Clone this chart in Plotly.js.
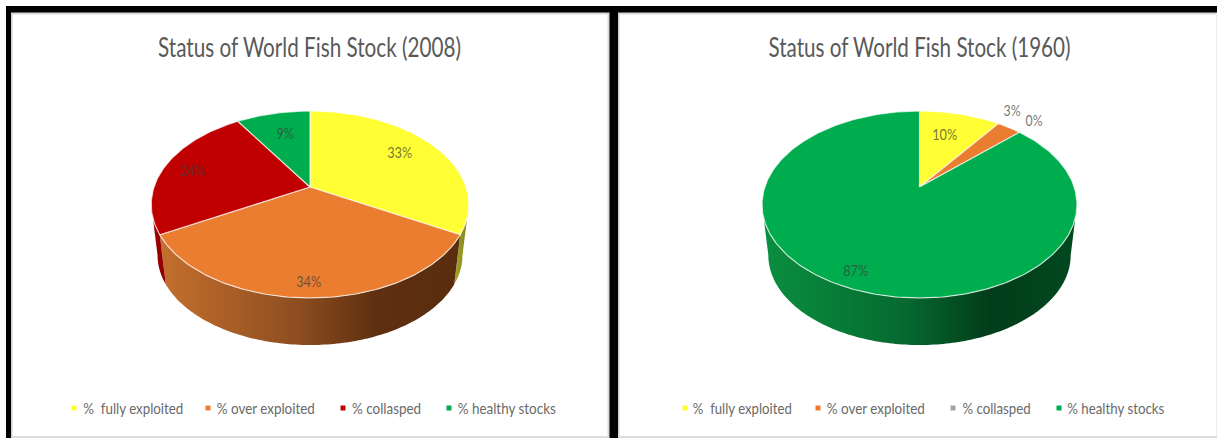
<!DOCTYPE html>
<html>
<head>
<meta charset="utf-8">
<script src="https://cdn.plot.ly/plotly-3.0.1.min.js"></script>
<style>html,body{margin:0;padding:0;background:#fff}#chart{width:1217px;height:438px}</style>
</head>
<body>
<div id="chart"></div>
<script>
// Two tilted, thick pie charts of the status of world fish stocks.
const categories = ['%  fully exploited', '% over exploited', '% collasped', '% healthy stocks'];
const stock2008 = [33, 34, 24, 9];
const stock1960 = [10, 3, 0, 87];
const titles = ['Status of World Fish Stock (2008)', 'Status of World Fish Stock (1960)'];

const FONT = 'Lato, Open Sans, sans-serif';
const topColors = ['#FFFF33', '#EB7D31', '#C00000', '#00AD4E'];
const legendColors = [['#FFFF33', '#ED7D31', '#C00000', '#00AD4E'], ['#FFFF33', '#ED7D31', '#A5A5A5', '#00AD4E']];
const wallScales = [
  [[0, '#a8a828'], [1, '#7d7d1e']],
  [[0, '#c4702e'], [0.45, '#8f4e20'], [0.72, '#5e2f10'], [1, '#5a2d0f']],
  [[0, '#a80000'], [1, '#8a0000']],
  [[0, '#0a8f40'], [0.45, '#066a30'], [0.72, '#023d1a'], [1, '#01481f']]
];

// Perspective of the disc: the far rim is compressed and the near rim stretched.
const PERSPECTIVE = 0.187;
const panels = [
  {values: stock2008, cx: 310, halfW: 156, labels: [
    {r: 0.75, dx: -4, dy: -3}, {r: 0.87, dx: -1, dy: 0}, {r: 0.8, dx: 0, dy: 0}, {r: 0.7, dx: 2, dy: -1}],
    legendX: [74, 208, 343, 449],
    legendSpan: [[83, 183], [217, 315], [352, 421], [458, 556]],
    titleSpan: [158, 461]},
  {values: stock1960, cx: 919.5, halfW: 154.7, labels: [
    {r: 0.62, dx: -1, dy: -6}, {r: 1.1, dx: -5, dy: -13}, {r: 1.15, dx: 1, dy: -6}, {r: 0.86, dx: -2, dy: -1}],
    legendX: [685, 818, 953, 1059],
    legendSpan: [[693, 792], [827, 925], [962, 1030], [1067, 1164]],
    titleSpan: [768, 1070]}
];
const APEX_Y = 187, HALF_H = 90.2;       // top face
const LOWER_Y = 238.5, LOWER_SCALE = 0.96; // bottom face
const STEP = 1;

function project(p, frac, r, apexY, scale) {
  const t = frac * 2 * Math.PI;
  const u = r * Math.sin(t), v = r * Math.cos(t);
  const w = 1 + PERSPECTIVE * v;
  return [p.cx + scale * p.halfW * u / w, apexY - scale * HALF_H * v / w];
}
function arc(p, f0, f1, apexY, scale) {
  const n = Math.max(1, Math.ceil((f1 - f0) * 360 / STEP));
  const pts = [];
  for (let i = 0; i <= n; i++) pts.push(project(p, f0 + (f1 - f0) * i / n, 1, apexY, scale));
  return pts;
}

const traces = [];
const annotations = [];
const textWidths = []; // drawn width of each annotation, in annotation order

function addText(x, y, text, size, color, width) {
  annotations.push({x, y, xref: 'x', yref: 'y', showarrow: false, text,
    font: {family: FONT, size, color}});
  textWidths.push(width);
}

panels.forEach((p, pi) => {
  const total = p.values.reduce((a, b) => a + b, 0);
  const visible = [100.8 / 360, 259.2 / 360];
  let cum = 0;
  const spans = p.values.map(val => { const s = [cum / total, (cum + val) / total]; cum += val; return s; });

  // Side wall: only the part of each slice facing the viewer.
  spans.forEach((s, i) => {
    const a = Math.max(s[0], visible[0]), b = Math.min(s[1], visible[1]);
    if (b <= a) return;
    const up = arc(p, a, b, APEX_Y, 1);
    const low = arc(p, a, b, LOWER_Y, LOWER_SCALE).reverse();
    const ring = up.concat(low, [up[0]]);
    traces.push({
      type: 'scatter', mode: 'none', hoverinfo: 'skip', showlegend: false,
      x: ring.map(q => q[0]), y: ring.map(q => q[1]),
      fill: 'toself', fillcolor: wallScales[i][0][1],
      fillgradient: {type: 'horizontal', colorscale: wallScales[i]}
    });
  });

  // Top face slices.
  spans.forEach((s, i) => {
    if (s[1] <= s[0]) return;
    const ring = arc(p, s[0], s[1], APEX_Y, 1);
    const apex = [p.cx, APEX_Y];
    const pts = [apex].concat(ring, [apex]);
    traces.push({
      type: 'scatter', mode: 'lines', hoverinfo: 'skip', showlegend: false,
      x: pts.map(q => q[0]), y: pts.map(q => q[1]),
      fill: 'toself', fillcolor: topColors[i],
      line: {color: 'rgba(255,255,255,0.7)', width: 1.2}
    });
  });

  // Percentage labels: narrow digits, width grows with the digit count.
  spans.forEach((s, i) => {
    const l = p.labels[i];
    const q = project(p, (s[0] + s[1]) / 2, l.r, APEX_Y, 1);
    const text = p.values[i] + '%';
    addText(q[0] + l.dx, q[1] + l.dy, text, 16, 'rgba(60,60,60,0.72)', 8 * (text.length - 1) + 9);
  });

  // Title.
  addText((p.titleSpan[0] + p.titleSpan[1]) / 2, 47, titles[pi], 26, '#595959', p.titleSpan[1] - p.titleSpan[0]);

  // Legend row.
  traces.push({
    type: 'scatter', mode: 'markers', hoverinfo: 'skip', showlegend: false,
    x: p.legendX, y: categories.map(() => 408),
    marker: {symbol: 'square', size: 5, color: legendColors[pi]}
  });
  categories.forEach((c, i) => {
    const sp = p.legendSpan[i];
    addText((sp[0] + sp[1]) / 2, 407.5, c.replace(/ /g, '\u00a0'), 15, '#6a6a6a', sp[1] - sp[0]);
  });
});

const frame = (x0, y0, x1, y1, color) => ({type: 'rect', xref: 'x', yref: 'y', x0, y0, x1, y1, line: {width: 0}, fillcolor: color, layer: 'below'});

const layout = {
  width: 1217, height: 438,
  margin: {l: 0, r: 0, t: 0, b: 0},
  paper_bgcolor: '#fff', plot_bgcolor: '#fff',
  showlegend: false,
  xaxis: {range: [0, 1217], visible: false, fixedrange: true},
  yaxis: {range: [438, 0], visible: false, fixedrange: true},
  shapes: [
    // Soft inner edges of the two panels.
    frame(11, 12, 1217, 14.5, '#d9d9d9'),
    frame(11, 12, 12.5, 438, '#d0d0d0'),
    frame(607.5, 12, 610, 438, '#d9d9d9'),
    frame(618, 12, 619.5, 438, '#d0d0d0'),
    frame(1216, 12, 1217, 438, '#ececec'),
    frame(11, 436, 609, 438, '#dcdcdc'),
    frame(618, 436, 1217, 438, '#dcdcdc'),
    // Black panel frames.
    frame(6, 6, 1217, 12.5, '#000'),
    frame(6, 6, 11, 438, '#000'),
    frame(609.5, 6, 618, 438, '#000')
  ],
  annotations
};

Plotly.newPlot('chart', traces, layout, {staticPlot: true, displayModeBar: false}).then(gd => {
  // Condense each text to its drawn width; Plotly fonts have no stretch setting.
  gd.querySelectorAll('.annotation').forEach(node => {
    const idx = +node.getAttribute('data-index');
    const t = node.querySelector('text');
    if (t && textWidths[idx]) {
      t.setAttribute('textLength', textWidths[idx]);
      t.setAttribute('lengthAdjust', 'spacingAndGlyphs');
    }
  });
});
</script>
</body>
</html>
